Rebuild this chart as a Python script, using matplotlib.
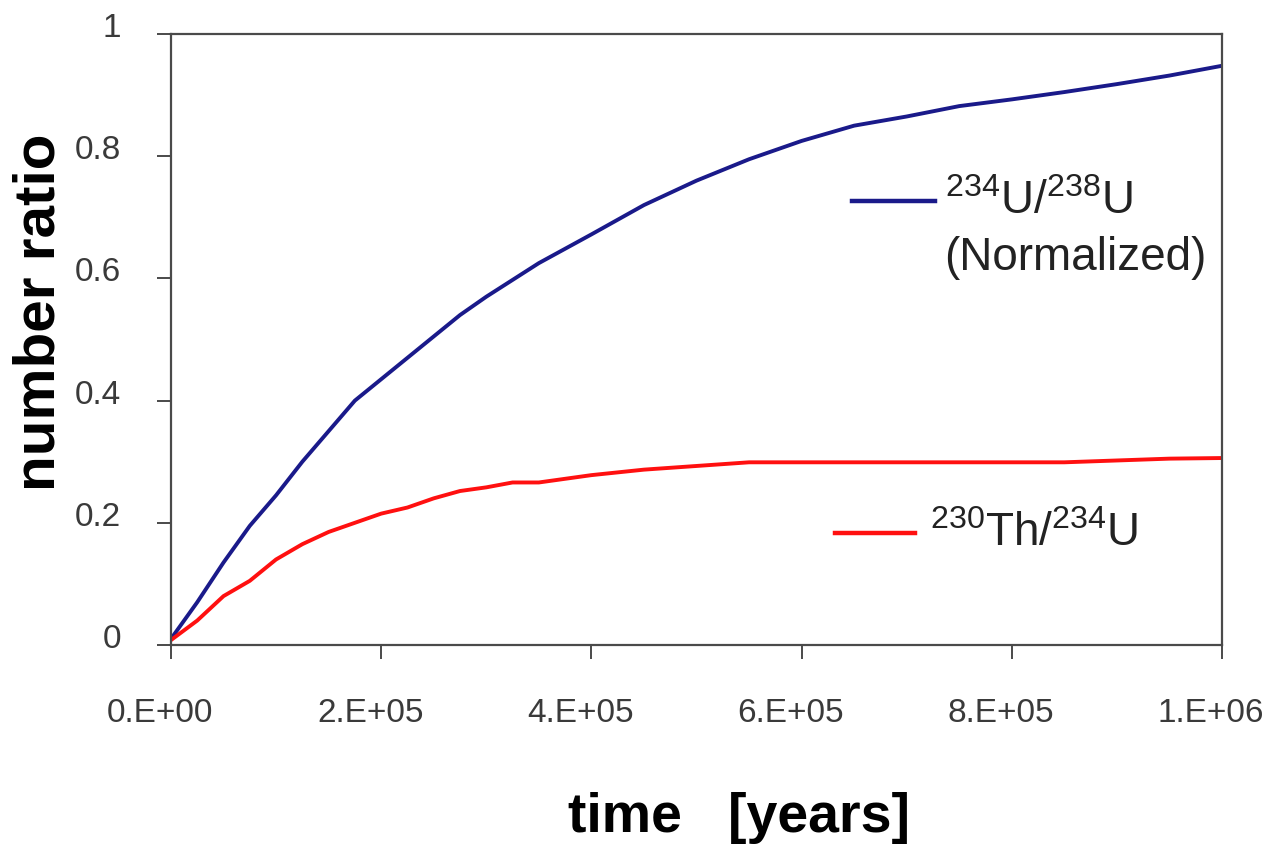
import matplotlib
matplotlib.use("Agg")
import matplotlib.pyplot as plt
from matplotlib.ticker import FuncFormatter
from matplotlib.transforms import ScaledTranslation

plt.rcParams["font.family"] = ["Liberation Sans", "DejaVu Sans"]
plt.rcParams["mathtext.fontset"] = "custom"
plt.rcParams["mathtext.rm"] = "Liberation Sans"

# time in years
time_u = [0, 2.5e4, 5e4, 7.5e4, 1e5, 1.25e5, 1.5e5, 1.75e5, 2e5, 2.25e5, 2.5e5,
          2.75e5, 3e5, 3.5e5, 4e5, 4.5e5, 5e5, 5.5e5, 6e5, 6.5e5, 7e5, 7.5e5,
          8e5, 8.5e5, 9e5, 9.5e5, 1e6]
ratio_u = [0.01, 0.07, 0.135, 0.195, 0.245, 0.30, 0.35, 0.40, 0.435, 0.47, 0.505,
           0.54, 0.57, 0.625, 0.672, 0.72, 0.76, 0.795, 0.825, 0.85, 0.865, 0.882,
           0.893, 0.905, 0.918, 0.932, 0.948]

time_th = [0, 2.5e4, 5e4, 7.5e4, 1e5, 1.25e5, 1.5e5, 1.75e5, 2e5, 2.25e5, 2.5e5,
           2.75e5, 3e5, 3.25e5, 3.5e5, 4e5, 4.5e5, 5e5, 5.5e5, 6e5, 7e5, 8e5,
           8.5e5, 9e5, 9.5e5, 1e6]
ratio_th = [0.008, 0.04, 0.08, 0.105, 0.14, 0.165, 0.185, 0.20, 0.215, 0.225, 0.24,
            0.252, 0.258, 0.266, 0.266, 0.278, 0.287, 0.293, 0.299, 0.299, 0.299, 0.299,
            0.299, 0.302, 0.305, 0.306]

x_ticks = [0, 2e5, 4e5, 6e5, 8e5, 1e6]
y_ticks = [0, 0.2, 0.4, 0.6, 0.8, 1.0]

label_u = r"$\mathregular{^{234}U/^{238}U}$"
label_th = r"$\mathregular{^{230}Th/^{234}U}$"

BLUE = "#1a1a8a"
RED = "#ff1010"
TICK_COLOR = "#3a3a3a"


def excel_sci(v, pos):
    # Excel-style "0.E+00" labels
    if v == 0:
        return "0.E+00"
    mant, exp = f"{v:.0e}".split("e")
    return f"{mant}.E+{int(exp):02d}"


def plain_ratio(v, pos):
    if v == 0:
        return "0"
    if v == 1:
        return "1"
    return f"{v:.1f}"


fig = plt.figure(figsize=(12.72, 8.46), dpi=100)
ax = fig.add_axes([0.1344, 0.2376, 0.8263, 0.7222])

ax.plot(time_u, ratio_u, color=BLUE, linewidth=2.8)
ax.plot(time_th, ratio_th, color=RED, linewidth=2.8)

ax.set_xlim(0, 1e6)
ax.set_ylim(0, 1)
ax.set_xticks(x_ticks)
ax.set_yticks(y_ticks)
ax.xaxis.set_major_formatter(FuncFormatter(excel_sci))
ax.yaxis.set_major_formatter(FuncFormatter(plain_ratio))

for side in ["left", "right", "top", "bottom"]:
    ax.spines[side].set_color("#4a4a4a")
    ax.spines[side].set_linewidth(1.6)
ax.tick_params(axis="both", direction="out", length=10, width=1.4, color="#4a4a4a",
               labelsize=24, labelcolor=TICK_COLOR)
ax.tick_params(axis="x", pad=28)
ax.tick_params(axis="y", pad=26)

# the original (Excel) labels sit a bit left / above their ticks
shift_x = ScaledTranslation(-0.11, 0, fig.dpi_scale_trans)
shift_y = ScaledTranslation(0, 0.09, fig.dpi_scale_trans)
for lab in ax.get_xticklabels():
    lab.set_transform(lab.get_transform() + shift_x)
for lab in ax.get_yticklabels():
    lab.set_transform(lab.get_transform() + shift_y)

# key entries drawn inside the axes
ax.plot([0.648, 0.727], [0.727, 0.727], transform=ax.transAxes, color=BLUE, linewidth=3.2)
ax.text(0.736, 0.705, label_u, transform=ax.transAxes, fontsize=33, color="#222222")
ax.text(0.736, 0.614, "(Normalized)", transform=ax.transAxes, fontsize=33, color="#222222")
ax.plot([0.632, 0.708], [0.183, 0.183], transform=ax.transAxes, color=RED, linewidth=3.2)
ax.text(0.722, 0.162, label_th, transform=ax.transAxes, fontsize=33, color="#222222")

fig.text(0.031, 0.631, "number ratio", rotation=90, fontsize=42, fontweight="bold",
         ha="center", va="center")
fig.text(0.581, 0.033, "time   [years]", fontsize=40, fontweight="bold",
         ha="center", va="center")

fig.savefig("out.png", dpi=100)
